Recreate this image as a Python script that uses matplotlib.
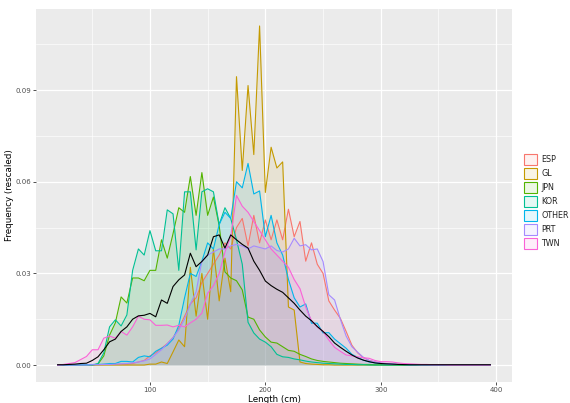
import numpy as np
import matplotlib
matplotlib.use("Agg")
import matplotlib.pyplot as plt
from matplotlib.patches import Patch

# length bins (cm)
lengths = list(range(20, 400, 5))

fleets = ["ESP", "GL", "JPN", "KOR", "OTHER", "PRT", "TWN"]
colors = ["#F8766D", "#C49A00", "#53B400", "#00C094", "#00B6EB", "#A58AFF", "#FB61D7"]

esp = [0, 0, 0, 0, 0, 0, 0.0001, 0.0001, 0.0002, 0.0002,
       0.0002, 0.0003, 0.0003, 0.0005, 0.001, 0.0015, 0.003, 0.004, 0.0055, 0.007,
       0.009, 0.012, 0.016, 0.020, 0.022, 0.027, 0.030, 0.033, 0.036, 0.040,
       0.038, 0.045, 0.048, 0.039, 0.049, 0.040, 0.0475, 0.041, 0.0475, 0.041,
       0.051, 0.042, 0.047, 0.034, 0.040, 0.033, 0.030, 0.021, 0.018, 0.0153,
       0.011, 0.0065, 0.004, 0.0024, 0.0015, 0.001, 0.0006, 0.0004, 0.0003, 0.0002,
       0.0002, 0.0001, 0.0001, 0.0001, 0, 0, 0, 0, 0, 0,
       0, 0, 0, 0, 0, 0]
gl = [0, 0, 0, 0, 0, 0, 0, 0, 0, 0,
      0, 0, 0, 0, 0, 0, 0.0003, 0.0003, 0.001, 0.0005,
      0.0043, 0.0082, 0.006, 0.032, 0.016, 0.030, 0.015, 0.038, 0.021, 0.035,
      0.024, 0.0944, 0.0637, 0.0915, 0.0689, 0.111, 0.0565, 0.0713, 0.0645, 0.0665,
      0.019, 0.018, 0.001, 0.0005, 0.0003, 0.0002, 0.0001, 0.0001, 0, 0,
      0, 0, 0, 0, 0, 0, 0, 0, 0, 0,
      0, 0, 0, 0, 0, 0, 0, 0, 0, 0,
      0, 0, 0, 0, 0, 0]
jpn = [0, 0, 0, 0, 0, 0, 0, 0.0003, 0.003, 0.0098,
       0.0138, 0.0223, 0.0203, 0.0285, 0.0285, 0.0276, 0.031, 0.031, 0.041, 0.035,
       0.043, 0.0515, 0.050, 0.0617, 0.049, 0.063, 0.049, 0.055, 0.0456, 0.0305,
       0.0285, 0.0276, 0.0246, 0.0157, 0.015, 0.0115, 0.0092, 0.0075, 0.0072, 0.006,
       0.0048, 0.0045, 0.0035, 0.0028, 0.002, 0.0015, 0.0012, 0.001, 0.0008, 0.0006,
       0.0005, 0.0004, 0.0003, 0.0002, 0.0002, 0.0001, 0.0001, 0, 0, 0,
       0, 0, 0, 0, 0, 0, 0, 0, 0, 0,
       0, 0, 0, 0, 0, 0]
kor = [0, 0, 0, 0, 0, 0, 0, 0.0005, 0.004, 0.0125,
       0.0148, 0.0128, 0.0164, 0.031, 0.038, 0.036, 0.044, 0.0374, 0.0374, 0.0508,
       0.0495, 0.031, 0.0567, 0.0567, 0.0377, 0.0567, 0.0577, 0.0567, 0.046, 0.0515,
       0.048, 0.041, 0.033, 0.014, 0.0105, 0.0085, 0.0075, 0.006, 0.0035, 0.0027,
       0.0025, 0.002, 0.0017, 0.0013, 0.001, 0.0008, 0.0006, 0.0005, 0.0004, 0.0003,
       0.0002, 0.0002, 0.0001, 0.0001, 0, 0, 0, 0, 0, 0,
       0, 0, 0, 0, 0, 0, 0, 0, 0, 0,
       0, 0, 0, 0, 0, 0]
other = [0, 0, 0, 0, 0.0001, 0.0001, 0.0002, 0.0002, 0.0003, 0.0005,
         0.0005, 0.0012, 0.0012, 0.001, 0.0025, 0.003, 0.0027, 0.0045, 0.0055, 0.0065,
         0.0085, 0.013, 0.022, 0.030, 0.029, 0.034, 0.040, 0.038, 0.046, 0.050,
         0.048, 0.060, 0.058, 0.066, 0.056, 0.057, 0.042, 0.049, 0.040, 0.036,
         0.028, 0.022, 0.019, 0.020, 0.0137, 0.0137, 0.0105, 0.0106, 0.0085, 0.007,
         0.0055, 0.0035, 0.0025, 0.0016, 0.001, 0.0007, 0.0005, 0.0004, 0.0003, 0.0002,
         0.0002, 0.0001, 0.0001, 0.0001, 0.0001, 0, 0, 0, 0, 0,
         0, 0, 0, 0, 0, 0]
prt = [0, 0, 0, 0, 0, 0, 0.0001, 0.0001, 0.0002, 0.0002,
       0.0003, 0.0004, 0.0005, 0.0007, 0.001, 0.0014, 0.002, 0.0035, 0.005, 0.007,
       0.009, 0.0115, 0.015, 0.020, 0.024, 0.034, 0.036, 0.037, 0.038, 0.038,
       0.039, 0.0395, 0.039, 0.038, 0.039, 0.0385, 0.038, 0.039, 0.0375, 0.037,
       0.038, 0.0415, 0.039, 0.0394, 0.0377, 0.038, 0.0339, 0.023, 0.0213, 0.015,
       0.0095, 0.006, 0.0042, 0.0025, 0.0015, 0.001, 0.0007, 0.0005, 0.0003, 0.0002,
       0.0002, 0.0001, 0.0001, 0, 0, 0, 0, 0, 0, 0,
       0, 0, 0, 0, 0, 0]
twn = [0, 0.0002, 0.0005, 0.0008, 0.0018, 0.0028, 0.005, 0.005, 0.0088, 0.0095,
       0.0088, 0.011, 0.0098, 0.0125, 0.016, 0.015, 0.0148, 0.013, 0.013, 0.0131,
       0.0125, 0.013, 0.0125, 0.0138, 0.015, 0.017, 0.0235, 0.026, 0.030, 0.037,
       0.042, 0.0555, 0.052, 0.050, 0.047, 0.044, 0.041, 0.038, 0.036, 0.034,
       0.032, 0.028, 0.025, 0.019, 0.0145, 0.0125, 0.011, 0.0082, 0.0058, 0.0045,
       0.0033, 0.003, 0.0027, 0.0024, 0.0022, 0.0015, 0.0011, 0.0011, 0.001, 0.0007,
       0.0005, 0.0004, 0.0003, 0.0002, 0.0002, 0.0001, 0.0001, 0.0001, 0, 0,
       0, 0, 0, 0, 0, 0]
overall = [0.0001, 0.0001, 0.0002, 0.0003, 0.0005, 0.0006, 0.0015, 0.0027, 0.005, 0.0076,
           0.0085, 0.011, 0.0125, 0.015, 0.0161, 0.0163, 0.0169, 0.0158, 0.0213, 0.0202,
           0.0257, 0.0279, 0.0295, 0.0366, 0.0322, 0.0339, 0.036, 0.042, 0.0426, 0.0383,
           0.0426, 0.041, 0.0395, 0.0383, 0.034, 0.031, 0.0275, 0.026, 0.0248, 0.0238,
           0.022, 0.0202, 0.018, 0.016, 0.0145, 0.0126, 0.011, 0.0093, 0.0072, 0.0058,
           0.0045, 0.0033, 0.0023, 0.0016, 0.0011, 0.0007, 0.0005, 0.0004, 0.0003, 0.0002,
           0.00015, 0.0001, 0.0001, 0.0001, 0.0001, 0.0001, 0.0001, 0.0001, 0.0001, 0.0001,
           0.0001, 0.0001, 0.0001, 0.0001, 0.0001, 0.0001]

series = [esp, gl, jpn, kor, other, prt, twn]

x_ticks = [100, 200, 300, 400]
y_ticks = [0.00, 0.03, 0.06, 0.09]
y_tick_labels = ["0.00", "0.03", "0.06", "0.09"]

fig = plt.figure(figsize=(5.70, 4.03), dpi=100)
fig.patch.set_facecolor("white")
ax = fig.add_axes([36 / 570, 1 - 382 / 403, (512 - 36) / 570, (382 - 9) / 403])
ax.set_facecolor("#EBEBEB")

x = np.array(lengths)
for vals, col in zip(series, colors):
    v = np.array(vals)
    ax.fill_between(x, 0, v, color=col, alpha=0.1, linewidth=0, zorder=2)
    ax.plot(x, v, color=col, lw=0.8, zorder=3)
ax.plot(x, np.array(overall), color="black", lw=0.8, zorder=4)

# limits (ggplot expansion)
xmin, xmax = 20, 395
xr = xmax - xmin
ax.set_xlim(xmin - 0.05 * xr, xmax + 0.05 * xr)
ymax = max(max(s) for s in series)
ax.set_ylim(-0.05 * ymax, 1.05 * ymax)

ax.set_xticks(x_ticks)
ax.set_xticks([50, 150, 250, 350], minor=True)
ax.set_yticks(y_ticks)
ax.set_yticklabels(y_tick_labels)
ax.set_yticks([0.015, 0.045, 0.075, 0.105], minor=True)
ax.grid(which="major", color="white", lw=0.9, zorder=0)
ax.grid(which="minor", color="white", lw=0.45, zorder=0)
ax.set_axisbelow(True)
for s in ax.spines.values():
    s.set_visible(False)
ax.tick_params(which="major", length=2.2, width=0.6, color="#333333",
               labelsize=5, labelcolor="#4D4D4D", pad=1.5)
ax.tick_params(which="minor", length=0)

ax.set_xlabel("Length (cm)", fontsize=6.3, color="black", labelpad=1)
ax.set_ylabel("Frequency (rescaled)", fontsize=6.3, color="black", labelpad=0.5)

handles = [Patch(facecolor=matplotlib.colors.to_rgba(c, 0.1), edgecolor=c, linewidth=0.8)
           for c in colors]
leg = fig.legend(handles, fleets, loc="center left", bbox_to_anchor=(523 / 570, 1 - 201.5 / 403),
                 frameon=False, fontsize=5.8, handlelength=1.6, handleheight=1.7,
                 labelspacing=0.38, handletextpad=0.55, borderpad=0.1, borderaxespad=0)
for t in leg.get_texts():
    t.set_color("#222222")

fig.savefig("out.png", dpi=100)
